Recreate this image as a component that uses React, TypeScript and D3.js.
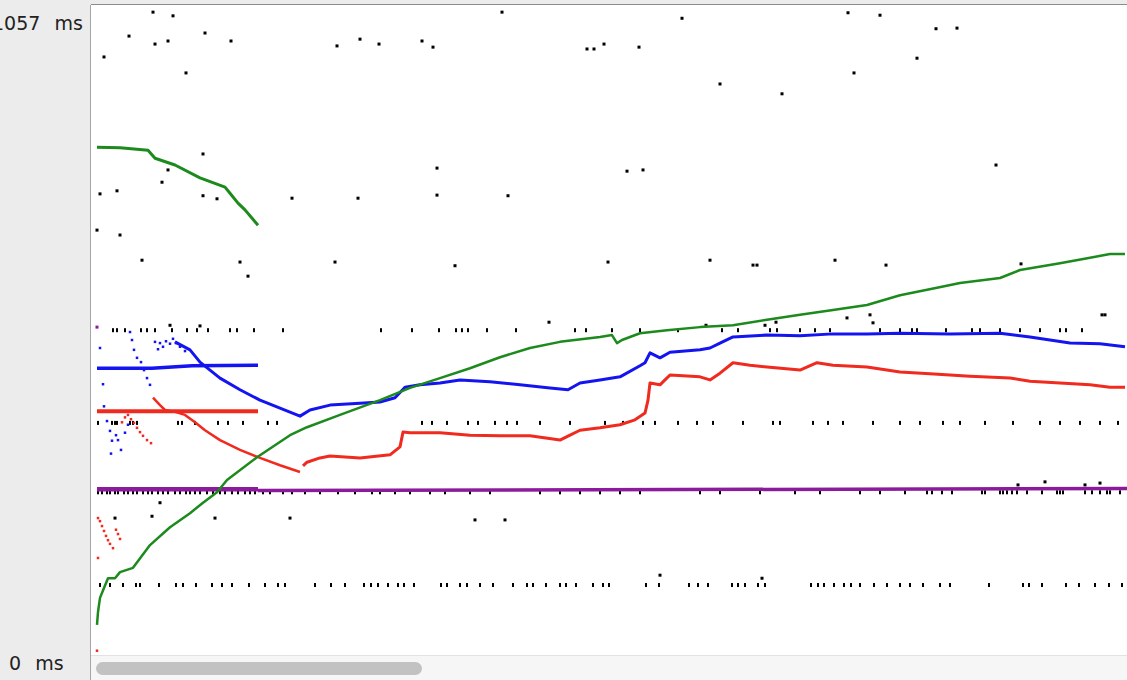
import React from "react";
import * as d3 from "d3";

// 時間軸: 樣本序號, 縱軸: 毫秒
type Pt = [number, number];

const Y_MAX_MS = 1057;
const X_SAMPLES = 1035;
const yTickLabels = ["1057 ms", "0 ms"];

// 綠色序列
const greenEarly: Pt[] = [[5, 827], [28, 826], [56, 822], [63, 809], [83, 798], [108, 777], [133, 762], [138, 752], [146, 736], [153, 725], [166, 700]];
const greenMain: Pt[] = [[5, 49], [6, 70], [8, 93], [12, 109], [16, 125], [23, 125], [28, 135], [41, 142], [58, 179], [78, 208], [98, 231], [111, 248], [125, 265], [135, 285], [165, 322], [198, 358], [215, 371], [248, 391], [288, 415], [318, 435], [348, 451], [378, 467], [408, 485], [438, 500], [468, 510], [508, 518], [520, 521], [525, 508], [530, 513], [548, 524], [575, 529], [608, 534], [641, 537], [675, 546], [708, 554], [741, 562], [775, 570], [808, 586], [845, 598], [868, 606], [908, 614], [928, 627], [968, 638], [998, 647], [1018, 653], [1033, 653]];

// 藍色序列
const blueFlat: Pt[] = [[5, 467], [60, 467], [100, 471], [166, 472]];
const blueMain: Pt[] = [[83, 510], [98, 497], [108, 477], [128, 451], [148, 432], [168, 415], [188, 402], [208, 389], [218, 399], [238, 407], [268, 410], [288, 412], [303, 419], [313, 436], [328, 440], [348, 443], [368, 448], [398, 445], [428, 440], [458, 435], [476, 432], [488, 443], [508, 448], [528, 453], [548, 471], [553, 476], [558, 492], [568, 484], [578, 493], [608, 497], [618, 500], [628, 508], [641, 518], [675, 521], [708, 520], [741, 523], [775, 523], [808, 524], [858, 523], [908, 524], [938, 518], [958, 513], [978, 508], [1008, 507], [1033, 502]];
const blueScatter: Pt[] = [[8, 500], [11, 441], [12, 405], [15, 381], [18, 365], [20, 349], [19, 328], [24, 358], [26, 350], [29, 334], [33, 362], [36, 375], [38, 526], [40, 513], [42, 497], [45, 484], [49, 477], [52, 464], [55, 451], [58, 440], [63, 510], [66, 498], [68, 508], [71, 502], [74, 511], [78, 507], [81, 515], [84, 508], [88, 502], [93, 495]];

// 紅色序列
const redFlat: Pt[] = [[5, 397], [166, 397]];
const redDecline: Pt[] = [[61, 419], [68, 407], [73, 399], [83, 396], [93, 391], [103, 379], [113, 366], [128, 350], [148, 334], [168, 321], [188, 309], [208, 298]];
const redMain: Pt[] = [[211, 308], [215, 314], [228, 321], [238, 324], [268, 321], [298, 326], [308, 339], [311, 363], [318, 362], [348, 362], [378, 358], [408, 357], [438, 357], [468, 350], [478, 358], [488, 366], [508, 370], [528, 375], [543, 383], [553, 394], [556, 415], [558, 443], [568, 440], [573, 448], [578, 456], [608, 453], [618, 448], [628, 459], [641, 476], [658, 472], [675, 469], [708, 464], [725, 476], [741, 472], [775, 469], [808, 461], [838, 458], [878, 454], [918, 451], [938, 446], [968, 443], [998, 440], [1018, 436], [1033, 436]];
const redScatter: Pt[] = [[6, 223], [8, 218], [10, 210], [12, 202], [14, 194], [16, 187], [18, 181], [21, 174], [24, 204], [26, 197], [28, 189], [30, 379], [33, 387], [36, 391], [39, 384], [42, 378], [45, 370], [48, 363], [51, 357], [55, 350], [59, 345], [6, 158], [5, 7]];

// 紫色序列
const purpleEarly: Pt[] = [[5, 270], [166, 270]];
const purpleMain: Pt[] = [[166, 268], [1035, 271]];
const purpleDots: Pt[] = [[5, 534]];

// 黑色零散點
const blackDots: Pt[] = [[12, 974], [37, 1008], [61, 1047], [81, 1041], [76, 1000], [63, 995], [94, 948], [113, 1013], [139, 1000], [245, 992], [268, 1003], [287, 995], [330, 1000], [341, 990], [410, 1047], [495, 987], [502, 987], [512, 995], [547, 990], [590, 1037], [628, 930], [690, 914], [756, 1046], [788, 1042], [762, 948], [825, 972], [844, 1020], [865, 1021], [111, 816], [76, 790], [70, 770], [8, 751], [25, 756], [111, 748], [125, 743], [5, 692], [28, 684], [200, 744], [266, 744], [345, 749], [345, 793], [416, 748], [535, 788], [551, 790], [904, 798], [50, 643], [148, 640], [156, 617], [243, 640], [363, 634], [516, 640], [618, 643], [661, 635], [665, 635], [743, 643], [794, 635], [929, 637], [1010, 554], [1013, 554], [778, 554], [781, 541], [684, 542], [673, 537], [614, 537], [457, 542], [108, 536], [78, 537], [755, 549], [68, 248], [23, 223], [60, 226], [123, 223], [198, 223], [383, 220], [413, 220], [568, 130], [670, 125], [953, 282], [993, 277], [1008, 280], [926, 277]];

// 黑色成排點 (樣本序號)
const row529: number[] = [21, 25, 33, 49, 55, 63, 80, 95, 105, 116, 138, 145, 162, 191, 289, 320, 347, 364, 370, 376, 395, 424, 483, 494, 520, 548, 586, 630, 646, 678, 685, 708, 723, 738, 788, 808, 820, 825, 854, 880, 888, 908, 928, 948, 968, 974, 990];
const row378: number[] = [6, 20, 23, 25, 38, 41, 45, 86, 90, 103, 126, 136, 151, 176, 185, 330, 340, 355, 376, 386, 403, 415, 425, 448, 478, 513, 531, 551, 563, 586, 605, 621, 651, 681, 688, 721, 736, 751, 781, 808, 828, 851, 868, 893, 921, 948, 968, 988, 1008, 1026];
const row265: number[] = [6, 10, 15, 18, 23, 26, 32, 36, 41, 45, 51, 56, 60, 66, 71, 76, 83, 88, 94, 98, 103, 108, 115, 121, 128, 133, 140, 146, 153, 158, 163, 171, 178, 191, 200, 213, 228, 246, 263, 280, 288, 303, 318, 338, 353, 378, 398, 448, 468, 488, 508, 528, 548, 608, 628, 668, 703, 728, 768, 788, 813, 835, 840, 850, 860, 890, 893, 908, 911, 915, 920, 925, 935, 950, 965, 968, 971, 993, 1000, 1008, 1015, 1018, 1028];
const row114: number[] = [8, 18, 31, 44, 48, 67, 84, 91, 104, 120, 130, 140, 157, 173, 186, 193, 223, 239, 253, 272, 279, 286, 296, 306, 312, 322, 349, 355, 368, 375, 388, 401, 421, 435, 441, 454, 468, 474, 484, 501, 511, 517, 554, 567, 597, 606, 616, 640, 646, 653, 666, 673, 719, 726, 732, 742, 752, 759, 768, 782, 795, 808, 818, 831, 848, 858, 897, 931, 937, 950, 974, 987, 1003, 1017, 1030];
const rowLevels: [number, number[]][] = [[529, row529], [378, row378], [265, row265], [114, row114]];

const W = 1127;
const H = 680;
const PLOT = { left: 91, top: 5, right: 1127, bottom: 655 };

const GREEN = "#1c8a1c";
const BLUE = "#1414f0";
const RED = "#f02a1e";
const PURPLE = "#8c1a9c";

export default function App() {
    const x = d3.scaleLinear().domain([0, X_SAMPLES]).range([PLOT.left + 1, PLOT.right]);
    const y = d3.scaleLinear().domain([0, Y_MAX_MS]).range([PLOT.bottom, PLOT.top + 1]);
    const line = d3.line<Pt>().x(d => x(d[0])).y(d => y(d[1]));

    const path = (data: Pt[], color: string, w: number) =>
        <path d={line(data) || ""} fill="none" stroke={color} strokeWidth={w} strokeLinejoin="round" />;

    const dots = (data: Pt[], color: string, s: number, key: string) =>
        data.map((d, i) => <rect key={key + i} x={x(d[0]) - s / 2} y={y(d[1]) - s / 2} width={s} height={s} fill={color} />);

    return (
        <svg width={W} height={H} style={{ position: "absolute", left: 0, top: 0 }}>
            {/* 背景與框線 */}
            <rect x={0} y={0} width={W} height={H} fill="#ececec" />
            <rect x={PLOT.left} y={PLOT.top} width={PLOT.right - PLOT.left} height={PLOT.bottom - PLOT.top} fill="#ffffff" />
            <line x1={PLOT.left - 0.5} x2={PLOT.left - 0.5} y1={PLOT.top} y2={H} stroke="#a6a6a6" />
            <line x1={PLOT.left} x2={W} y1={PLOT.top - 0.5} y2={PLOT.top - 0.5} stroke="#8c8c8c" />
            {/* 捲軸 */}
            <rect x={PLOT.left} y={PLOT.bottom} width={W - PLOT.left} height={H - PLOT.bottom} fill="#f6f6f6" />
            <line x1={PLOT.left} x2={W} y1={PLOT.bottom + 0.5} y2={PLOT.bottom + 0.5} stroke="#e2e2e2" />
            <rect x={96} y={662} width={326} height={13} rx={6.5} fill="#c2c2c2" />

            {/* 縱軸標籤 (參考圖左側被裁切) */}
            <text x={-8} y={30} fontFamily="DejaVu Sans" fontSize={19} fill="#222" style={{ wordSpacing: "8px" }}>{yTickLabels[0]}</text>
            <text x={9} y={670} fontFamily="DejaVu Sans" fontSize={19} fill="#222" style={{ wordSpacing: "8px" }}>{yTickLabels[1]}</text>

            {/* 黑色點 */}
            {rowLevels.map(([ms, ts], r) => ts.map((t, i) =>
                <rect key={`r${r}-${i}`} x={x(t) - 1} y={y(ms) - 2} width={2} height={4} fill="#000" />))}
            {dots(blackDots, "#000", 3, "b")}

            {/* 紫色 */}
            {path(purpleMain, PURPLE, 3.5)}
            {path(purpleEarly, PURPLE, 4.5)}
            {dots(purpleDots, PURPLE, 3, "p")}

            {/* 紅色 */}
            {path(redFlat, RED, 4)}
            {path(redDecline, RED, 2.5)}
            {path(redMain, RED, 3)}
            {dots(redScatter, RED, 2.5, "rs")}

            {/* 藍色 */}
            {path(blueFlat, BLUE, 3.5)}
            {path(blueMain, BLUE, 3)}
            {dots(blueScatter, BLUE, 2.5, "bs")}

            {/* 綠色 */}
            {path(greenEarly, GREEN, 3)}
            {path(greenMain, GREEN, 2.5)}
        </svg>
    );
}
